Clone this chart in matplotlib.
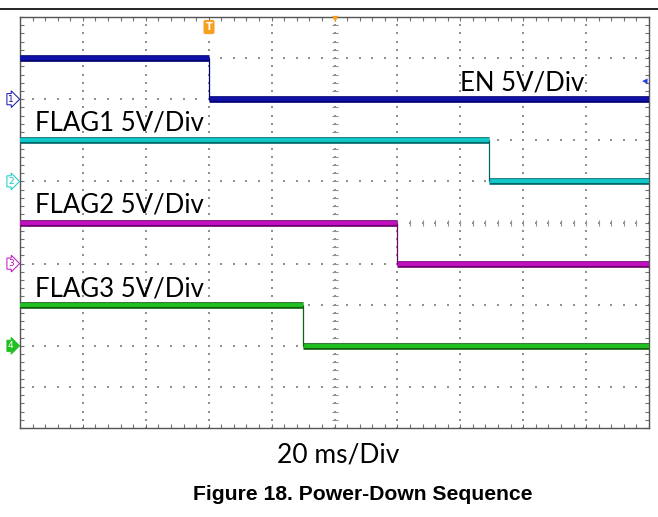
import numpy as np
import matplotlib.pyplot as plt
import matplotlib.patheffects as pe
from matplotlib.lines import Line2D

channels = ['EN', 'FLAG1', 'FLAG2', 'FLAG3']
fall_ms = [60, 149, 120, 90]
high_v = [5, 5, 5, 5]
low_v = [0, 0, 0, 0]
labels = ['EN 5V/Div', 'FLAG1 5V/Div', 'FLAG2 5V/Div', 'FLAG3 5V/Div']

# scope settings
ms_per_div = 20
v_per_div = 5
n_div_x = 10
n_div_y = 10
ch_offset = [8, 6, 4, 2]   # ground level of each channel, in divisions
colors = ['#1010a8', '#10c8c8', '#c010c0', '#20c020']
edges = ['#000070', '#006868', '#700070', '#106010']

W, H = 658, 517
fig = plt.figure(figsize=(W / 100, H / 100), dpi=100)
ax = fig.add_axes([20 / W, (H - 428) / H, 629 / W, 411 / H])
xmax = n_div_x * ms_per_div
ax.set_xlim(0, xmax)
ax.set_ylim(0, n_div_y)

# graticule: dotted lines, one dot every 1/5 division
sub = np.arange(0, n_div_x * 5 + 1) / 5 * ms_per_div
for gy in range(1, n_div_y):
    ax.scatter(sub, np.full(sub.size, gy), s=1.2, marker='s', color='#909090', lw=0, zorder=1)
suby = np.arange(0, n_div_y * 5 + 1) / 5
for gx in range(1, n_div_x):
    ax.scatter(np.full(suby.size, gx * ms_per_div), suby, s=1.2, marker='s', color='#909090', lw=0, zorder=1)

# centre lines with small ticks
cx = n_div_x / 2 * ms_per_div
cy = n_div_y / 2
ax.scatter(sub, np.full(sub.size, cy), s=18, marker='|', color='#909090', lw=0.8, zorder=1)
ax.scatter(np.full(suby.size, cx), suby, s=18, marker='_', color='#909090', lw=0.8, zorder=1)

# border ticks
ax.set_xticks(np.arange(0, xmax + 1, ms_per_div))
ax.set_xticks(sub, minor=True)
ax.set_yticks(np.arange(0, n_div_y + 1))
ax.set_yticks(suby, minor=True)
ax.tick_params(which='both', direction='in', length=3, width=0.8, color='#707070',
               top=True, right=True, labelbottom=False, labelleft=False)
for s in ax.spines.values():
    s.set_color('#555555')
    s.set_linewidth(1.0)

# traces
for i in range(len(channels)):
    hi = ch_offset[i] + high_v[i] / v_per_div
    lo = ch_offset[i] + low_v[i] / v_per_div
    fx = [pe.Stroke(linewidth=4.8, foreground=edges[i]), pe.Normal()]
    ax.hlines(hi, 0, fall_ms[i], color=colors[i], lw=2.8, path_effects=fx, zorder=3)
    ax.hlines(lo, fall_ms[i], xmax, color=colors[i], lw=2.8, path_effects=fx, zorder=3)
    ax.vlines(fall_ms[i], lo, hi, color=edges[i], lw=0.9, zorder=3)

# channel ground markers on the left
for i in range(len(channels)):
    filled = i == 3
    fig.text(8 / W, (ch_offset[i] * 41.1 + (H - 428)) / H, str(i + 1),
             fontsize=6.5, color='white' if filled else colors[i], ha='left', va='center',
             bbox=dict(boxstyle='rarrow,pad=0.12', fc=colors[i] if filled else 'white',
                       ec=colors[i], lw=0.7))

# trigger markers
fig.text(209 / W, 1 - 27 / H, 'T', fontsize=7, color='white', ha='center', va='center',
         fontweight='bold',
         bbox=dict(boxstyle='round,pad=0.15', fc='#f5a020', ec='#f5a020'))
fig.text(335 / W, 1 - 19 / H, '\u25bc', fontsize=6, color='#f5a020', ha='center', va='center')
fig.text(645 / W, 1 - 81 / H, '\u25c2', fontsize=8, color='#2040e0', ha='center', va='center')

# labels
font = 'Lato'
lab_pos = [(460, 90), (35, 131), (35, 213), (35, 296)]
for lab, (px, py) in zip(labels, lab_pos):
    fig.text(px / W, 1 - py / H, lab, fontsize=18.5, family=font, ha='left', va='baseline')

fig.text(338 / W, 1 - 463 / H, '20 ms/Div', fontsize=19, family=font, ha='center', va='baseline')
fig.text(363 / W, 1 - 500 / H, 'Figure 18. Power-Down Sequence', fontsize=15.2,
         family='Liberation Sans', fontweight='bold', ha='center', va='baseline')

# rule across the top
fig.add_artist(Line2D([0, 1], [1 - 9 / H, 1 - 9 / H], color='black', lw=1.2,
                      transform=fig.transFigure))

fig.savefig('out.png', dpi=100)
